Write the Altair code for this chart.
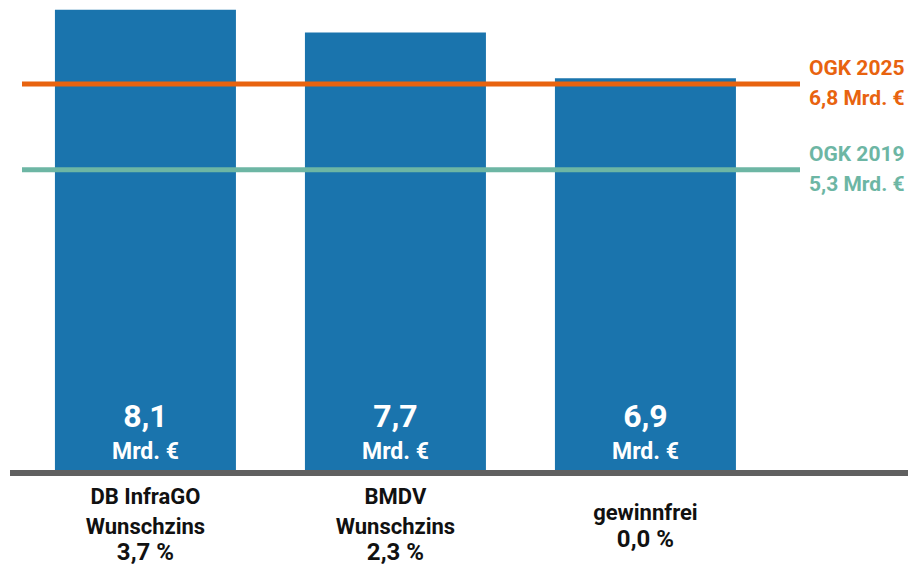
import altair as alt
import pandas as pd

# ---- data ----
categories = ["DB InfraGO\nWunschzins", "BMDV\nWunschzins", "gewinnfrei"]
values = [8.1, 7.7, 6.9]
value_labels = ["8,1", "7,7", "6,9"]
rates = ["3,7 %", "2,3 %", "0,0 %"]

ref_names = ["OGK 2025", "OGK 2019"]
ref_values = [6.8, 5.3]
ref_labels = ["6,8 Mrd. €", "5,3 Mrd. €"]
ref_colors = ["#e8630f", "#6db6a4"]

FONT = "Roboto"
BAR = "#1a74ad"

df = pd.DataFrame({
    "cat": categories,
    "value": values,
    "zero": [0.0] * len(categories),
    "vlabel": value_labels,
    "unit": ["Mrd. €"] * len(categories),
    "rate": rates,
    "lines": [c.count("\n") + 1 for c in categories],
})
refdf = pd.DataFrame({
    "name": ref_names,
    "value": ref_values,
    "text": [f"{n}\n{l}" for n, l in zip(ref_names, ref_labels)],
})
basedf = pd.DataFrame({"z": [0.0]})

yscale = alt.Scale(domain=[-1.626, 8.269], zero=False, nice=False)
xenc = alt.X("cat:N", sort=categories, axis=None,
             scale=alt.Scale(paddingInner=0.276, paddingOuter=0.454, align=0.242))
colorenc = alt.Color("name:N", scale=alt.Scale(domain=ref_names, range=ref_colors), legend=None)
yzero = alt.Y("zero:Q", scale=yscale, axis=None)

base = alt.Chart(df).encode(x=xenc)

bars = base.mark_bar(color=BAR).encode(
    y=alt.Y("value:Q", scale=yscale, axis=None), y2="zero:Q"
)

ref_rules = alt.Chart(refdf).mark_rule(strokeWidth=5).encode(
    y=alt.Y("value:Q", scale=yscale, axis=None),
    x=alt.value(22), x2=alt.value(800), color=colorenc,
)

baseline = alt.Chart(basedf).mark_rule(color="#606060", strokeWidth=6).encode(
    y=alt.Y("z:Q", scale=yscale, axis=None), x=alt.value(10), x2=alt.value(908)
)

val_text = base.mark_text(color="white", font=FONT, fontSize=32, fontWeight="bold",
                          baseline="middle", dy=-56).encode(y=yzero, text="vlabel:N")
unit_text = base.mark_text(color="white", font=FONT, fontSize=23, fontWeight="bold",
                           baseline="middle", dy=-21).encode(y=yzero, text="unit:N")

label_style = dict(color="#111111", font=FONT, fontWeight="bold", baseline="middle")

name2 = base.transform_filter("datum.lines == 2").mark_text(
    fontSize=22, lineBreak="\n", lineHeight=30, dy=24, **label_style
).encode(y=yzero, text="cat:N")
name1 = base.transform_filter("datum.lines == 1").mark_text(
    fontSize=22, lineBreak="\n", lineHeight=30, dy=40, **label_style
).encode(y=yzero, text="cat:N")

rate2 = base.transform_filter("datum.lines == 2").mark_text(
    fontSize=24, dy=80, **label_style
).encode(y=yzero, text="rate:N")
rate1 = base.transform_filter("datum.lines == 1").mark_text(
    fontSize=24, dy=67, **label_style
).encode(y=yzero, text="rate:N")

ref_text = alt.Chart(refdf).mark_text(
    align="left", baseline="middle", lineBreak="\n", lineHeight=30,
    font=FONT, fontSize=21, fontWeight="bold", dy=-15
).encode(
    x=alt.value(809), y=alt.Y("value:Q", scale=yscale, axis=None),
    text="text:N", color=colorenc,
)

chart = alt.layer(
    bars, ref_rules, baseline, val_text, unit_text, name2, name1, rate2, rate1, ref_text
).properties(
    width=908, height=566, padding=0,
    autosize=alt.AutoSizeParams(type="none"),
    background="white",
).configure_view(stroke=None)

chart.save("out.html", embed_options={"renderer": "svg", "actions": False})
